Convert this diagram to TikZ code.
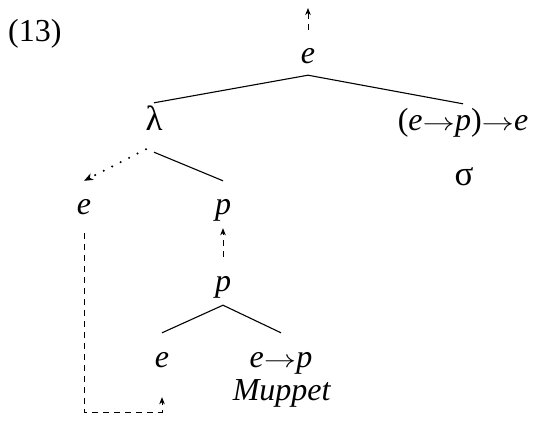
\documentclass[tikz,border=0pt]{standalone}
\usepackage{graphicx}
\usepackage{fontspec}
\setmainfont{Liberation Serif}
\usetikzlibrary{arrows.meta}
\newcommand{\toarr}{\scalebox{1.3}[1]{\ensuremath{\rightarrow}}}
\begin{document}
\begin{tikzpicture}[x=1pt,y=-1pt,
  lab/.style={inner sep=0pt, anchor=base, text height=33pt, text depth=13pt},
  edge/.style={line width=1.1pt},
  move/.style={line width=1pt, dash pattern=on 6pt off 5pt, -{Stealth[length=7pt,width=5.5pt,inset=2pt]}},
  dots/.style={line width=2.3pt, line cap=round, dash pattern=on 0pt off 9.5pt, -{Stealth[length=9pt,width=7pt,inset=2.5pt]}},
  every node/.style={font=\fontsize{32pt}{38pt}\selectfont}]
\useasboundingbox (0,0) rectangle (533,423);
\node[inner sep=0pt, anchor=base west] (num) at (8,41) {(13)};
\node[lab, text depth=12pt] (top) at (308,63) {\textit{e}};
\coordinate (topend) at (308,8);
\node[lab, text height=27pt, text depth=22pt, font=\fontsize{35pt}{40pt}\selectfont] (lam) at (154,130) {λ};
\node[lab, text height=26pt] (sig) at (463,130) {(\textit{e}\toarr\textit{p})\toarr\textit{e}};
\node[inner sep=0pt, anchor=base, font=\fontsize{35pt}{40pt}\selectfont] (sigma) at (464,185) {σ};
\node[lab, text depth=19pt] (e1) at (84,214) {\textit{e}};
\node[lab, text depth=14pt] (p1) at (223,214) {\textit{p}};
\node[lab, text height=34pt, text depth=14pt] (p2) at (223,291) {\textit{p}};
\node[lab, text height=34pt, text depth=30pt] (e2) at (162,367) {\textit{e}};
\node[lab, text height=34pt] (ep) at (281,367) {\textit{e}\toarr\textit{p}};
\node[inner sep=0pt, anchor=base] (mup) at (282,400) {\textit{Muppet}};
\draw[move] (top.north) -- (topend);
\draw[edge] (top.south) -- (lam.north);
\draw[edge] (top.south) -- (sig.north);
\draw[edge] (lam.south) -- (p1.north);
\draw[dots] ([xshift=-8pt,yshift=3pt]lam.south) -- (e1.north);
\draw[move] (p2.north) -- (p1.south);
\draw[edge] (p2.south) -- (e2.north);
\draw[edge] (p2.south) -- (ep.north);
\draw[move] (e1.south) -- (e1.south |- 0,412) -| (e2.south);
\end{tikzpicture}
\end{document}
